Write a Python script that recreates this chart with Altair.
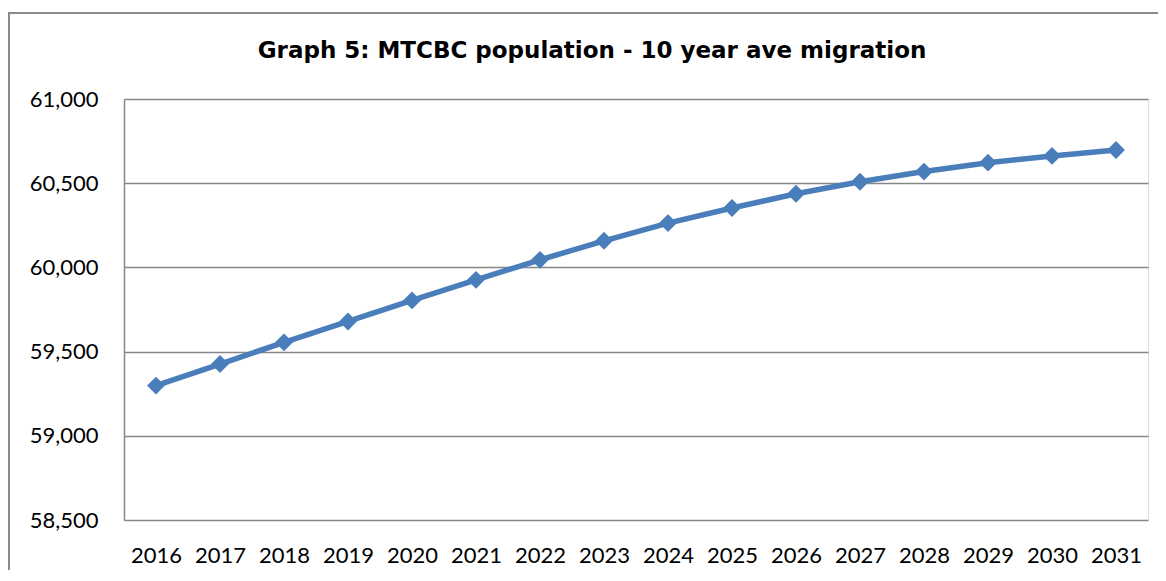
import altair as alt
import pandas as pd

years = ["2016", "2017", "2018", "2019", "2020", "2021", "2022", "2023",
         "2024", "2025", "2026", "2027", "2028", "2029", "2030", "2031"]
population = [59298, 59426, 59555, 59679, 59804, 59926, 60045, 60158,
              60263, 60353, 60437, 60509, 60569, 60622, 60662, 60697]
y_ticks = [58500, 59000, 59500, 60000, 60500, 61000]
title_text = "Graph 5: MTCBC population - 10 year ave migration"

df = pd.DataFrame({"year": years, "population": population})

BLUE = "#4A7EBB"
GRID = "#878787"

x_enc = alt.X("year:O", sort=years, title=None,
              scale=alt.Scale(type="point", padding=0.5),
              axis=alt.Axis(labelAngle=0, ticks=False, domain=False, grid=False,
                            labelFont="Lato", labelFontSize=22, labelColor="#000000",
                            labelPadding=25))
y_enc = alt.Y("population:Q", title=None,
              scale=alt.Scale(domain=[58500, 61000], nice=False, zero=False),
              axis=alt.Axis(values=y_ticks, format=",.0f", ticks=False,
                            domain=True, domainColor=GRID, domainWidth=1.5,
                            grid=True, gridColor=GRID, gridWidth=1.5,
                            labelFont="Lato", labelFontSize=22, labelColor="#000000",
                            labelPadding=26))

frame = alt.Chart(pd.DataFrame({"k": [0]})).mark_rect(
    fill=None, stroke="#8a8a8a", strokeWidth=2
).encode(x=alt.value(-115), x2=alt.value(3000), y=alt.value(-86), y2=alt.value(3000))

title = alt.Chart(pd.DataFrame({"t": [title_text]})).mark_text(
    font="DejaVu Sans", fontSize=23, fontWeight="bold", color="#000000",
    align="center", baseline="alphabetic"
).encode(text="t:N", x=alt.value(468), y=alt.value(-41))

line = alt.Chart(df).mark_line(color=BLUE, strokeWidth=5.5).encode(x=x_enc, y=y_enc)
points = alt.Chart(df).mark_point(shape="diamond", filled=True, color=BLUE,
                                  size=320, opacity=1).encode(x=x_enc, y=y_enc)

chart = alt.layer(frame, title, line, points).properties(
    width=1024, height=421,
    autosize=alt.AutoSizeParams(type="none"),
    padding={"left": 116, "top": 91, "right": 10, "bottom": 50},
).configure_view(stroke=None).configure(background="#ffffff")

chart.save("out.html", embed_options={"renderer": "svg", "actions": False})
